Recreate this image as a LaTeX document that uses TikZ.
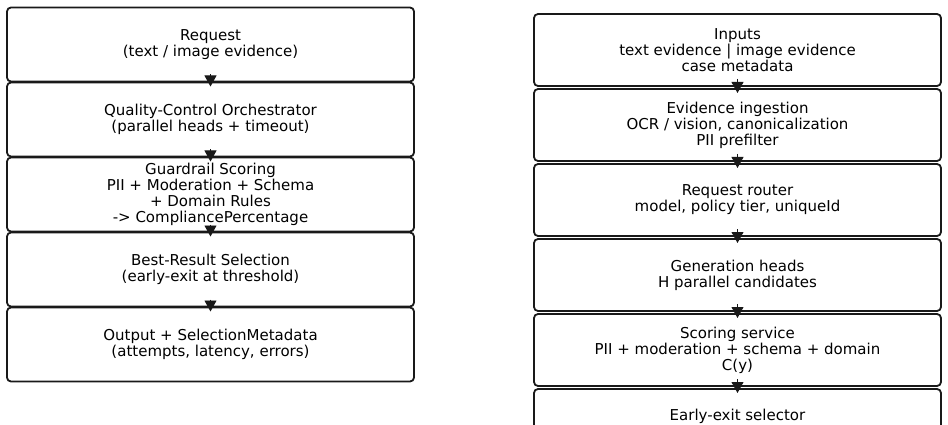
\documentclass[tikz,border=0pt]{standalone}
\usepackage{fontspec}
\setmainfont{DejaVu Sans}
\usetikzlibrary{arrows.meta}

\begin{document}
\begin{tikzpicture}[x=1pt,y=-1pt,
  stage/.style={draw=black!90,line width=1.8pt,rounded corners=4pt,minimum width=407pt,inner sep=0pt,outer sep=0pt,align=center,font=\fontsize{15}{16}\selectfont},
  lstage/.style={stage,minimum height=74pt},
  rstage/.style={stage,minimum height=72pt},
  flow/.style={-{Triangle[length=11pt,width=12pt]},line width=0.8pt,black!90}]
\clip (0,0) rectangle (948,425);
% left column
\node[lstage] (req) at (210.5,44.5) {Request\\(text / image evidence)};
\node[lstage] (orch) at (210.5,119.5) {Quality-Control Orchestrator\\(parallel heads + timeout)};
\node[lstage] (guard) at (210.5,194.5) {Guardrail Scoring\\PII + Moderation + Schema\\+ Domain Rules\\-> CompliancePercentage};
\node[lstage] (best) at (210.5,269.5) {Best-Result Selection\\(early-exit at threshold)};
\node[lstage] (output) at (210.5,344.5) {Output + SelectionMetadata\\(attempts, latency, errors)};
\draw[flow] ([yshift=7pt]req.south) -- ([yshift=-4pt]orch.north);
\draw[flow] ([yshift=7pt]orch.south) -- ([yshift=-4pt]guard.north);
\draw[flow] ([yshift=7pt]guard.south) -- ([yshift=-4pt]best.north);
\draw[flow] ([yshift=7pt]best.south) -- ([yshift=-4pt]output.north);
% right column
\node[rstage] (inputs) at (737.5,50) {Inputs\\text evidence | image evidence\\case metadata};
\node[rstage] (ingest) at (737.5,125) {Evidence ingestion\\OCR / vision, canonicalization\\PII prefilter};
\node[rstage] (router) at (737.5,200) {Request router\\model, policy tier, uniqueId};
\node[rstage] (heads) at (737.5,275) {Generation heads\\H parallel candidates};
\node[rstage] (scoring) at (737.5,350) {Scoring service\\PII + moderation + schema + domain\\C(y)};
\node[rstage] (exitsel) at (737.5,425) {Early-exit selector\\\strut};
\draw[flow] ([yshift=7pt]inputs.south) -- ([yshift=-4pt]ingest.north);
\draw[flow] ([yshift=7pt]ingest.south) -- ([yshift=-4pt]router.north);
\draw[flow] ([yshift=7pt]router.south) -- ([yshift=-4pt]heads.north);
\draw[flow] ([yshift=7pt]heads.south) -- ([yshift=-4pt]scoring.north);
\draw[flow] ([yshift=7pt]scoring.south) -- ([yshift=-4pt]exitsel.north);
\end{tikzpicture}
\end{document}
